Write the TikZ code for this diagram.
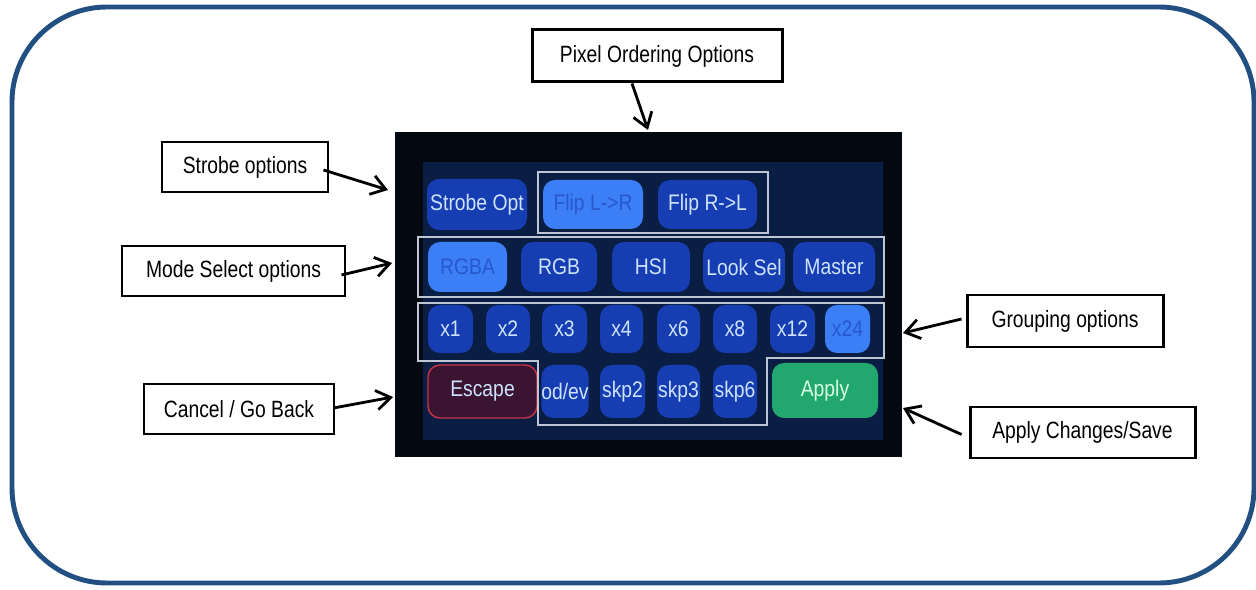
\documentclass[tikz,border=0pt]{standalone}
\usepackage{fontspec}
\setmainfont{Liberation Sans}[FakeStretch=0.82]
\newfontfamily\scrfont{Liberation Sans}[FakeStretch=0.86]
\usetikzlibrary{arrows.meta}
\definecolor{outerblue}{RGB}{33,79,130}
\definecolor{scrbg}{RGB}{4,8,16}
\definecolor{scrin}{RGB}{10,30,68}
\definecolor{btnblue}{RGB}{22,62,178}
\definecolor{btnhi}{RGB}{60,126,245}
\definecolor{btntxt}{RGB}{205,226,255}
\definecolor{hitxt}{RGB}{40,88,205}
\definecolor{grpline}{RGB}{190,198,212}
\definecolor{escfill}{RGB}{58,20,48}
\definecolor{escline}{RGB}{200,52,70}
\definecolor{applyfill}{RGB}{34,168,110}
\definecolor{applytxt}{RGB}{215,255,225}
\begin{document}
\begin{tikzpicture}[x=0.02cm,y=-0.02cm,
  sz/.style 2 args={minimum width=#1*0.02cm, minimum height=#2*0.02cm, inner sep=0pt},
  outer/.style={draw=outerblue, line width=2.8pt, rounded corners=1.9cm},
  lbl/.style={draw=black, fill=white, line width=1.7pt, font=\fontsize{13.4}{15}\selectfont, text=black},
  grp/.style={draw=grpline, line width=0.9pt},
  btn/.style={fill=btnblue, rounded corners=0.24cm, text=btntxt, font=\scrfont\fontsize{12.8}{14}\selectfont},
  btnh/.style={btn, fill=btnhi, text=hitxt},
  esc/.style={btn, fill=escfill, draw=escline, line width=0.8pt},
  apl/.style={btn, fill=applyfill, text=applytxt},
  arr/.style={-{Straight Barb[length=8pt,width=11pt]}, line width=1.6pt, black}
]
\useasboundingbox (0,0) rectangle (1256,590);
\draw[outer] (12,7) rectangle (1254,583);

% screen
\fill[scrbg] (395,132) rectangle (902,457);
\fill[scrin] (423,162) rectangle (883,440);

% row 1
\node[btn, sz={100}{51}] (strobeopt) at (477,204.5) {Strobe Opt};
\node[btnh, sz={100}{49}] (flipLR) at (593,204.5) {Flip L->R};
\node[btn, sz={99}{49}] (flipRL) at (707.5,204.5) {Flip R->L};
% row 2
\node[btnh, sz={79}{50}] (rgba) at (467.5,267) {RGBA};
\node[btn, sz={76}{50}] (rgb) at (559,267) {RGB};
\node[btn, sz={78}{50}] (hsi) at (651,267) {HSI};
\node[btn, sz={82}{50}] (looksel) at (744,267) {Look Sel};
\node[btn, sz={82}{50}] (master) at (834,267) {Master};
% row 3
\node[btn, sz={45}{48}] (g1) at (450.5,329) {x1};
\node[btn, sz={44}{48}] (g2) at (508,329) {x2};
\node[btn, sz={45}{48}] (g3) at (564.5,329) {x3};
\node[btn, sz={43}{48}] (g4) at (621.5,329) {x4};
\node[btn, sz={43}{48}] (g6) at (678.5,329) {x6};
\node[btn, sz={44}{48}] (g8) at (735,329) {x8};
\node[btn, sz={45}{48}] (g12) at (792.5,329) {x12};
\node[btnh, sz={45}{48}] (g24) at (847.5,329) {x24};
% row 4
\node[esc, sz={109}{53}] (escape) at (482.5,391.5) {Escape};
\node[btn, sz={46}{53}] (odev) at (565,391.5) {od/ev};
\node[btn, sz={45}{53}] (skp2) at (622.5,391.5) {skp2};
\node[btn, sz={43}{53}] (skp3) at (678.5,391.5) {skp3};
\node[btn, sz={44}{53}] (skp6) at (735,391.5) {skp6};
\node[apl, sz={106}{55}] (applybtn) at (825,390.5) {Apply};

% group outlines
\draw[grp] (538,172) rectangle (768,233);
\draw[grp] (418,237) rectangle (884,297);
\draw[grp] (418,303) -- (884,303) -- (884,358) -- (767,358) -- (767,425)
  -- (538,425) -- (538,361) -- (418,361) -- cycle;

% labels
\node[lbl, sz={250}{52}] (pix) at (657,56) {Pixel Ordering Options};
\node[lbl, sz={166}{50}] (strobe) at (245,167) {Strobe options};
\node[lbl, sz={223}{50}] (mode) at (233.5,271) {Mode Select options};
\node[lbl, sz={190}{50}] (cancel) at (239,409) {Cancel / Go Back};
\node[lbl, sz={196}{52}] (group) at (1065,321) {Grouping options};
\node[lbl, sz={225}{51}] (apply) at (1082.5,432.5) {Apply Changes/Save};

% arrow targets
\coordinate (tPix) at (648,130);
\coordinate (tStrobe) at (388,190);
\coordinate (tMode) at (392,263);
\coordinate (tCancel) at (393,397);
\coordinate (tGroup) at (903,333);
\coordinate (tApply) at (903,408);

\draw[arr] ([xshift=-25*0.02cm]pix.south) -- (tPix);
\draw[arr] ([shift={(-6,3)}]strobe.east) -- (tStrobe);
\draw[arr] ([shift={(-5,4)}]mode.east) -- (tMode);
\draw[arr] ([shift={(-2,-1)}]cancel.east) -- (tCancel);
\draw[arr] ([shift={(-4,-2)}]group.west) -- (tGroup);
\draw[arr] ([shift={(-7,2)}]apply.west) -- (tApply);
\end{tikzpicture}
\end{document}
